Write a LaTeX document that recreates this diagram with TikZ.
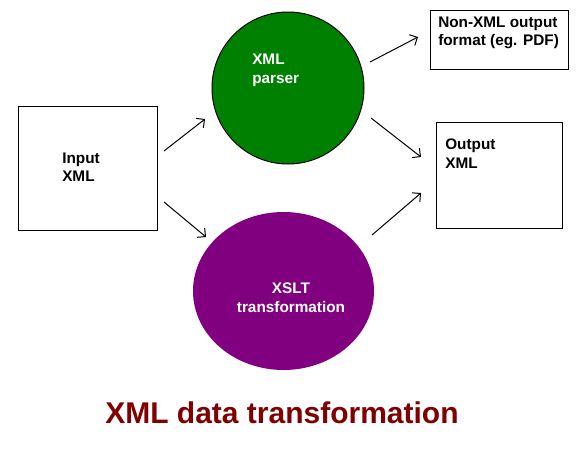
\documentclass[tikz,border=0pt]{standalone}
\usepackage{fontspec}
\setmainfont{Liberation Sans}
\usetikzlibrary{arrows.meta,shapes.geometric}
\definecolor{parsergreen}{HTML}{008000}
\definecolor{xsltpurple}{HTML}{800080}
\definecolor{titlered}{HTML}{800000}
\tikzset{
  box/.style={draw=black, line width=0.75pt, fill=white, inner sep=0pt},
  lbl/.style={inner sep=0pt, align=left, font=\fontsize{11.5}{13.8}\selectfont\bfseries},
  wlbl/.style={lbl, text=white},
  flow/.style={draw=black, line width=0.75pt, -{Straight Barb[length=4.5pt,width=9pt]}},
}
\begin{document}
\begin{tikzpicture}[x=0.75pt,y=-0.75pt]
\useasboundingbox[fill=white] (0,0) rectangle (578,457);
% shapes
\node[box, minimum width=104.25pt, minimum height=93pt] (input) at (87.5,168) {};
\node[box, minimum width=103.5pt, minimum height=44.25pt] (nonxml) at (499,39.5) {};
\node[box, minimum width=94.5pt, minimum height=79.5pt] (output) at (499,175) {};
\node[circle, draw=black, line width=0.75pt, fill=parsergreen, minimum size=114pt, inner sep=0pt] (parser) at (288,88) {};
\node[ellipse, fill=xsltpurple, minimum width=135.75pt, minimum height=118.5pt, inner sep=0pt] (xslt) at (283.5,291) {};
% labels
\node[lbl, anchor=north west] (inputtxt) at (62,152.5) {Input\\XML};
\node[wlbl, anchor=north west] (parsertxt) at (252,54) {XML\\parser};
\node[wlbl, anchor=north, align=center] (xslttxt) at (291,283) {XSLT\\transformation};
\node[lbl, anchor=north west] (nonxmltxt) at (438,16.5) {Non-XML output\\format (eg. PDF)};
\node[lbl, anchor=north west] (outputtxt) at (445,139) {Output\\XML};
\node[anchor=base, inner sep=0pt, text=titlered, font=\fontsize{22.5}{27}\selectfont\bfseries] (title) at (282,423) {XML data transformation};
% arrow endpoints
\coordinate (a1s) at (164,151); \coordinate (a1e) at (205,119);
\coordinate (a2s) at (164,202); \coordinate (a2e) at (206,237);
\coordinate (a3s) at (370,62);  \coordinate (a3e) at (418,37);
\coordinate (a4s) at (371,118); \coordinate (a4e) at (421,157);
\coordinate (a5s) at (372,235); \coordinate (a5e) at (421,193);
\draw[flow] (a1s) -- (a1e);
\draw[flow] (a2s) -- (a2e);
\draw[flow] (a3s) -- (a3e);
\draw[flow] (a4s) -- (a4e);
\draw[flow] (a5s) -- (a5e);
\end{tikzpicture}
\end{document}
